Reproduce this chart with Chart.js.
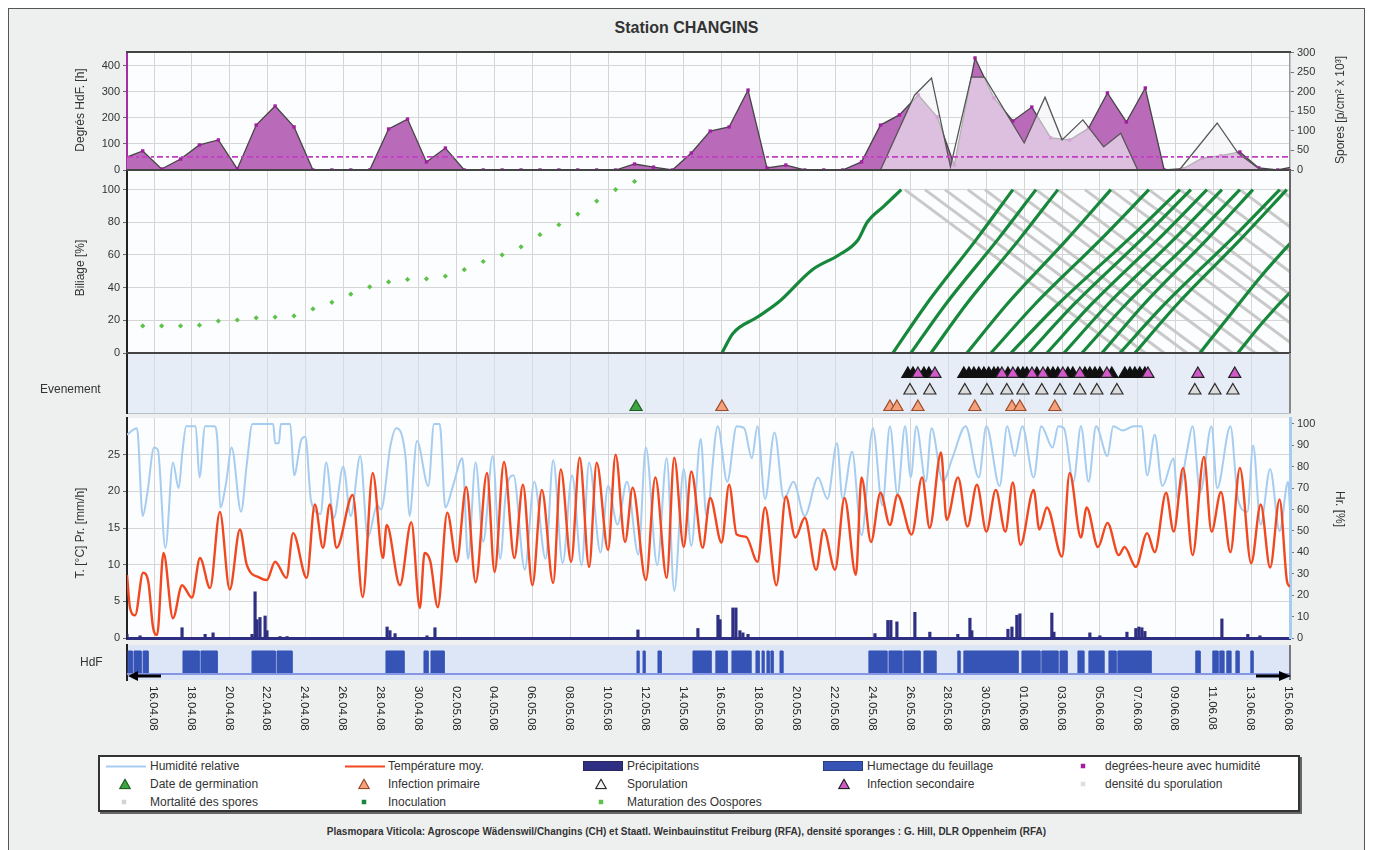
<!DOCTYPE html>
<html lang="fr">
<head>
<meta charset="utf-8">
<title>Station CHANGINS</title>
<script src="https://cdn.jsdelivr.net/npm/chart.js@4.4.1/dist/chart.umd.min.js"></script>
<style>
html,body{margin:0;padding:0;background:#ffffff;}
#wrap{position:relative;width:1373px;height:850px;overflow:hidden;font-family:"Liberation Sans",Arial,Helvetica,sans-serif;color:#333;}
#frame{position:absolute;left:8px;top:8px;width:1357px;height:848px;background:#eef0f0;border:1px solid #555;box-sizing:border-box;}
#title{position:absolute;left:0;top:19px;width:1373px;text-align:center;font-size:16px;font-weight:bold;color:#333;}
canvas{position:absolute;left:0;}
.vt{position:absolute;white-space:nowrap;font-size:12px;color:#333;transform:translate(-50%,-50%) rotate(-90deg);}
.vt.down{transform:translate(-50%,-50%) rotate(90deg);}
.lab{position:absolute;font-size:12px;color:#333;white-space:nowrap;transform:translateY(-50%);}
#legend{position:absolute;left:98px;top:755px;width:1202px;height:57px;background:#fff;border:2px solid #333;box-sizing:border-box;box-shadow:2px 2px 0 #666;}
.li{position:absolute;font-size:12px;color:#333;white-space:nowrap;transform:translateY(-50%);}
.ic{position:absolute;transform:translate(-50%,-50%);line-height:0;}
#footer{position:absolute;left:0;width:1373px;top:826px;text-align:center;font-size:10px;font-weight:bold;color:#333;}
</style>
</head>
<body>
<div id="wrap">
  <div id="frame"></div>
  <div id="title">Station CHANGINS</div>
  <canvas id="cDeg" width="1373" height="138" style="top:42px"></canvas>
  <canvas id="cBil" width="1373" height="203" style="top:160px"></canvas>
  <canvas id="cEvt" width="1373" height="80" style="top:343px"></canvas>
  <canvas id="cTmp" width="1373" height="240" style="top:408px"></canvas>
  <canvas id="cHdf" width="1373" height="110" style="top:635px"></canvas>
  <div class="vt" style="left:80px;top:110px">Degrés HdF. [h]</div>
  <div class="vt" style="left:80px;top:268px">Biliage [%]</div>
  <div class="vt" style="left:80px;top:533px">T. [°C] Pr. [mm/h]</div>
  <div class="vt" style="left:1340px;top:110px">Spores [p/cm² x 10³]</div>
  <div class="vt down" style="left:1340px;top:509px">Hr. [%]</div>
  <div class="lab" style="left:40px;top:389px">Evenement</div>
  <div class="lab" style="left:80px;top:662px">HdF</div>
  <div id="legend"></div>
  <div id="footer">Plasmopara Viticola: Agroscope Wädenswil/Changins (CH) et Staatl. Weinbauinstitut Freiburg (RFA), densité sporanges : G. Hill, DLR Oppenheim (RFA)</div>
</div>
<script>
// ---------------- DATA (days counted from 16.04.08) ----------------
const X_MIN = -1.43, X_MAX = 60.05;
const TICK_DAYS = [0,2,4,6,8,10,12,14,16,18,20,22,24,26,28,30,32,34,36,38,40,42,44,46,48,50,52,54,56,58,60];
const DATE_LABELS = ['16.04.08','18.04.08','20.04.08','22.04.08','24.04.08','26.04.08','28.04.08','30.04.08',
  '02.05.08','04.05.08','06.05.08','08.05.08','10.05.08','12.05.08','14.05.08','16.05.08','18.05.08','20.05.08',
  '22.05.08','24.05.08','26.05.08','28.05.08','30.05.08','01.06.08','03.06.08','05.06.08','07.06.08','09.06.08',
  '11.06.08','13.06.08','15.06.08'];

// Degrés-heure avec humidité (left axis, h)
const DEG_DAYS = [-1.6,-0.6,0.4,1.4,2.4,3.4,4.4,5.4,6.4,7.4,8.4,9.4,10.4,11.4,12.4,13.4,14.4,15.4,16.4,17.4,18.4,19.4,
  20.4,21.4,22.4,23.4,24.4,25.4,26.4,27.4,28.4,29.4,30.4,31.4,32.4,33.4,34.4,35.4,36.4,37.4,38.4,39.4,40.4,41.4,42.3,
  43.4,44.4,45.4,46.4,47.4,48.4,49.4,50.4,51.4,52.4,53.4,54.4,55.4,56.4,57.4,58.4,59.4,60.4];
const DEG_VALUES = [45,73,4,42,96,115,4,172,245,165,0,0,0,0,157,195,31,84,0,0,0,0,0,0,0,0,0,23,11,0,65,149,165,306,
  8,19,0,0,0,31,172,211,287,203,19,429,276,188,241,123,115,160,295,184,314,0,5,45,55,69,8,0,15];
const DEG_THRESHOLD = 50;

// Densité de sporulation (right axis)
const SPO_DAYS = [38.4,40.2,41.1,42.1,43.2,43.9,46.0,47.1,48.0,49.1,50.2,51.1,52.0,54.2,56.2,57.3,58.5];
const SPO_VALUES = [0,191,235,8,237,237,69,186,77,128,59,94,0,0,120,43,0];

// Maturation des oospores (%)
const MAT_DAYS = [-0.6,0.4,1.4,2.4,3.4,4.4,5.4,6.4,7.4,8.4,9.4,10.4,11.4,12.4,13.4,14.4,15.4,16.4,17.4,18.4,19.4,20.4,21.4,22.4,23.4,24.4,25.4];
const MAT_VALUES = [16.6,16.6,16.6,17,19.6,20.2,21.5,22,22.7,27,31,36,40.5,43.5,45,45.4,47,51,56,60,65,72.4,78.5,85,93,100,105];

// Inoculation curves [day, %]
const INOC_LINES = [
  [[30.02,0],[30.6,12],[31.9,22],[33.0,31],[34.8,51],[36.2,60],[37.2,69],[37.7,80],[38.6,90],[39.5,100]],
  [[39.06,0],[40.84,30],[43.50,70],[45.40,100]],
  [[40.01,0],[41.86,30],[44.64,70],[46.62,100]],
  [[41.07,0],[42.95,30],[45.77,70],[47.78,100]],
  [[42.97,0],[45.10,30],[48.30,70],[50.58,100]],
  [[44.24,0],[46.58,30],[50.09,70],[52.59,100]],
  [[45.30,0],[47.80,30],[51.55,70],[54.23,100]],
  [[46.25,0],[48.65,30],[52.24,70],[54.81,100]],
  [[47.20,0],[49.57,30],[53.12,70],[55.66,100]],
  [[48.10,0],[50.44,30],[53.95,70],[56.45,100]],
  [[49.05,0],[51.39,30],[54.90,70],[57.40,100]],
  [[50.11,0],[52.34,30],[55.70,70],[58.09,100]],
  [[51.06,0],[53.43,30],[56.98,70],[59.51,100]],
  [[51.85,0],[54.10,30],[57.47,70],[59.88,100]],
  [[55.29,0],[57.0,25],[58.6,48],[60.05,67],[60.6,74]],
  [[57.29,0],[58.7,20],[60.05,37],[60.6,43]]
];
// Mortalité des spores: [start day at 100 %, end day at 0 %]
const MORT_LINES = [[39.69,51.3],[40.75,52.4],[41.81,53.4],[43.02,54.6],[43.92,55.5],[45.40,57.0],[46.62,58.2],
  [47.78,59.4],[49.21,60.8],[50.58,62.2],[51.59,63.2],[52.59,64.2],[54.23,65.8],[55.66,67.3],[57.40,69.0],[59.51,71.1]];

// Événements
const GERM_DAYS = [25.48];
const PRIM_DAYS = [30.02,38.9,39.27,40.38,43.39,45.35,45.77,47.62];
const SPOR_DAYS = [39.96,41.01,42.86,44.03,45.08,45.93,46.93,47.89,48.94,49.84,50.90,55.02,56.08,57.03];
const SEC_DAYS = [40.38,41.28,44.82,45.40,46.41,46.99,48.04,48.94,50.37,52.54,55.18,57.13];
const SEC_BUSY_DAYS = [39.85,40.12,40.70,40.96,42.81,43.08,43.34,43.60,43.87,44.13,44.40,44.61,45.14,45.67,45.93,
  46.14,46.67,47.25,47.52,47.78,48.31,48.57,49.21,49.47,49.74,50.00,50.63,51.32,51.59,51.85,52.11,52.38];

// Température moyenne (°C)
const TEMP_DAYS = [-1.43,-1.27,-1.0,-0.58,-0.3,-0.05,0.16,0.5,1.0,1.48,2.0,2.43,2.96,3.48,4.0,4.54,4.9,5.6,5.96,6.4,
  7.0,7.35,8.07,8.5,8.93,9.29,9.65,10.5,11.03,11.56,12.1,12.3,13.0,13.6,14.05,14.3,14.6,15.0,15.5,16.0,
  16.5,17.0,17.6,18.0,18.5,19.05,19.5,20.0,20.5,21.1,21.5,22.05,22.5,23.0,23.4,24.0,24.4,24.9,25.3,26.0,
  26.5,27.1,27.5,28.0,28.4,29.0,29.4,30.0,30.4,30.8,31.3,31.9,32.3,32.9,33.4,33.9,34.4,35.0,35.4,36.0,
  36.5,37.1,37.4,37.9,38.4,38.9,39.3,40.05,40.6,41.0,41.6,41.9,42.5,43.0,43.5,44.0,44.5,45.0,45.4,45.8,
  46.5,46.8,47.2,48.0,48.4,49.0,49.3,49.9,50.4,51.0,51.3,51.9,52.5,52.9,53.5,53.9,54.4,54.9,55.5,55.9,
  56.4,56.9,57.4,58.0,58.5,59.0,59.5,59.9,60.05];
const TEMP_VALUES = [8.6,4.1,3.1,8.9,7.6,1.4,0.4,11.6,2.7,7.2,5.5,10.9,6.8,17.2,6.6,14.8,10.0,8.2,7.9,10.4,
  8.2,14.3,8.2,18.2,12.3,18.2,12.3,19.5,5.6,22.5,10.9,15.4,7.2,15.8,4.1,11.6,10.5,4.2,17.1,10.4,
  20.6,7.6,22.5,9.0,24.0,10.9,20.9,7.2,20.2,7.5,23.0,10.4,24.6,9.7,23.9,12.0,25.0,13.1,20.5,7.9,
  21.9,8.2,24.6,12.4,22.7,12.3,19.1,13.0,20.9,14.1,13.8,10.4,17.8,7.2,19.3,13.7,16.4,9.3,14.8,9.3,
  19.1,8.6,21.9,13.1,19.8,15.4,19.5,14.1,21.9,15.0,25.3,16.1,21.9,15.2,20.9,14.5,20.2,14.5,21.2,12.7,
  20.2,14.8,17.8,11.1,22.5,13.7,17.8,12.4,15.7,11.3,12.4,9.7,14.3,11.7,19.8,14.5,23.2,11.3,24.7,14.5,
  19.9,11.7,23.2,10.2,18.2,9.6,18.9,7.6,7.0];

// Humidité relative (%)
const HUM_DAYS = [-1.43,-0.9,-0.6,-0.35,0.0,0.2,0.6,1.0,1.3,1.5,1.7,2.2,2.4,2.7,3.2,3.35,3.5,3.8,4.1,4.6,
  4.9,5.2,6.3,6.4,6.6,6.7,7.2,7.4,7.8,8.0,8.3,8.8,9.1,9.5,10.0,10.4,10.9,11.3,11.8,12.0,
  12.5,12.8,13.3,13.5,13.9,14.5,14.8,15.1,15.4,15.8,16.3,16.6,17.0,17.4,17.9,18.3,18.6,19.0,19.6,20.1,
  20.7,21.1,21.6,22.1,22.6,23.0,23.6,24.0,24.5,25.0,25.6,26.0,26.6,27.1,27.5,28.0,28.4,28.9,29.2,29.8,
  30.3,30.8,31.2,31.6,31.9,32.3,32.8,33.3,33.8,34.4,35.1,35.6,36.1,36.4,36.9,37.4,38.0,38.5,38.9,39.3,
  39.7,40.0,40.3,40.8,41.1,41.7,42.2,42.9,43.6,44.0,44.7,45.1,45.5,45.9,46.5,46.9,47.5,47.8,48.1,48.6,
  49.0,49.4,49.8,50.4,50.7,51.2,51.8,52.2,52.5,52.9,53.3,53.9,54.1,54.6,54.9,55.3,55.9,56.2,56.9,57.3,
  57.8,58.1,58.5,59.0,59.5,59.95,60.05];
const HUM_VALUES = [95,98,57,68,89,88,42,82,70,87,99,99,75,99,99,92,61,72,89,59,
  81,100,100,91,91,100,100,76,93,94,64,58,82,56,80,57,85,47,62,60,
  90,98,84,57,92,71,100,100,61,71,84,37,82,45,85,37,68,76,32,73,
  37,83,35,76,34,82,40,71,53,73,39,89,34,84,22,79,43,93,57,99,
  73,99,98,84,99,65,96,65,73,57,75,65,91,65,87,48,98,62,99,67,
  99,75,99,73,98,73,84,99,75,99,71,99,85,99,75,99,89,99,98,73,
  99,73,99,85,99,97,99,99,76,95,71,84,65,87,99,68,99,70,99,65,
  59,90,53,79,50,73,60];

// Précipitations (mm/h)
const PREC_DAYS = [-1.43,-0.74,1.48,2.7,3.12,5.18,5.34,5.44,5.6,5.87,5.97,6.66,7.03,12.32,12.47,12.74,14.43,14.85,25.58,28.75,
  29.81,29.92,30.6,30.76,30.97,31.13,31.4,38.11,38.79,38.95,39.27,40.22,41.01,42.49,43.13,43.23,45.14,45.35,45.61,45.77,
  47.46,47.57,49.47,50.0,51.43,51.9,52.06,52.22,52.38,56.45,57.82,58.46];
const PREC_VALUES = [0.5,0.3,1.4,0.5,0.7,0.5,6.3,2.5,2.8,3.0,1.0,0.2,0.2,1.5,1.0,0.6,0.3,1.4,1.1,1.3,
  3.1,2.5,4.1,4.1,1.0,0.7,0.5,0.6,2.4,2.4,2.2,3.5,0.8,0.5,2.7,1.0,1.2,1.5,3.1,3.3,
  3.4,0.8,0.7,0.3,0.8,1.3,1.5,1.4,0.9,2.6,0.5,0.3];

// Humectage du feuillage: wet periods [start, end]
const HDF_START = [-1.37,-1.06,-0.58,1.53,2.48,5.18,6.50,12.26,14.27,14.64,25.53,25.85,26.64,28.49,29.70,30.55,31.82,32.14,32.40,32.61,
  33.09,37.79,38.85,39.64,40.70,42.49,42.81,45.88,46.93,47.89,48.84,49.42,50.48,50.95,55.07,55.97,56.34,56.71,57.19,57.98];
const HDF_END = [-1.16,-0.69,-0.32,2.38,3.33,6.40,7.29,13.21,14.48,15.33,25.63,25.95,26.80,29.44,30.29,31.55,31.98,32.24,32.51,32.72,
  33.24,38.74,39.53,40.49,41.33,42.60,45.67,46.83,47.78,48.26,49.15,50.21,50.85,52.70,55.29,56.24,56.55,56.92,57.35,58.09];

// ---------------- LAYOUT ----------------
const CW = 1373, PLOT_L = 127, PLOT_R = 1290, PAD = 10;
const ROW_PRIM = 1, ROW_SPOR = 2, ROW_SEC = 3;

Chart.defaults.font.family = '"Liberation Sans", Arial, Helvetica, sans-serif';
Chart.defaults.font.size = 11;
Chart.defaults.color = '#333';
Chart.defaults.elements.point.radius = 0;
Chart.defaults.elements.point.hoverRadius = 0;

const panelPlugin = {
  id: 'panel',
  beforeDraw(chart, args, o) {
    const a = chart.chartArea, ctx = chart.ctx;
    if (o && o.bg) { ctx.save(); ctx.fillStyle = o.bg; ctx.fillRect(a.left, a.top, a.right - a.left, a.bottom - a.top); ctx.restore(); }
  },
  afterDraw(chart, args, o) {
    const a = chart.chartArea, ctx = chart.ctx;
    ctx.save();
    if (o && o.top) { ctx.strokeStyle = o.top.color; ctx.lineWidth = o.top.width; ctx.beginPath(); ctx.moveTo(a.left - 1, a.top); ctx.lineTo(a.right + 1, a.top); ctx.stroke(); }
    if (o && o.right) { ctx.strokeStyle = o.right.color; ctx.lineWidth = o.right.width; ctx.setLineDash(o.right.dash || []); ctx.beginPath(); ctx.moveTo(a.right, a.top); ctx.lineTo(a.right, a.bottom); ctx.stroke(); }
    ctx.restore();
  }
};
Chart.register(panelPlugin);

function xAxis(gridColor, border, showGrid) {
  return {
    type: 'linear', min: X_MIN, max: X_MAX, offset: false,
    afterBuildTicks: s => { s.ticks = TICK_DAYS.map(v => ({value: v})); },
    ticks: {display: false},
    grid: {display: showGrid !== false, color: gridColor, lineWidth: 1, drawTicks: false, offset: false},
    border: border
  };
}
function yLeft(min, max, tickVals, borderColor, showGrid) {
  return {
    type: 'linear', position: 'left', min: min, max: max,
    afterBuildTicks: s => { s.ticks = tickVals.map(v => ({value: v})); },
    afterFit: s => { s.width = PLOT_L; },
    ticks: {display: tickVals.length > 0, padding: 3, color: '#333', font: {size: 11}},
    grid: {display: true, drawOnChartArea: showGrid, color: '#d6d6d6', tickLength: 4, tickColor: '#666', drawTicks: tickVals.length > 0},
    border: {display: true, color: borderColor, width: 2}
  };
}
function yRight(min, max, tickVals, border) {
  return {
    type: 'linear', position: 'right', min: min, max: max,
    afterBuildTicks: s => { s.ticks = tickVals.map(v => ({value: v})); },
    afterFit: s => { s.width = CW - PLOT_R; },
    ticks: {padding: 3, color: '#333', font: {size: 11}},
    grid: {drawOnChartArea: false, tickLength: 4, tickColor: '#777'},
    border: border
  };
}
function opts(scales, panel, padRight, padBottom) {
  return {
    responsive: false, animation: false, devicePixelRatio: 1, events: [],
    layout: {padding: {top: PAD, bottom: padBottom, left: 0, right: padRight}},
    plugins: {legend: {display: false}, tooltip: {enabled: false}, panel: panel},
    scales: scales
  };
}
const pts = (xs, ys) => xs.map((x, i) => ({x: x, y: ys[i]}));
const row = (xs, r) => xs.map(x => ({x: x, y: r}));

// ---- Panel 1: degrés-heure / spores
new Chart(document.getElementById('cDeg'), {
  type: 'line',
  data: {datasets: [
    {label: 'seuil', data: [{x: X_MIN, y: DEG_THRESHOLD}, {x: X_MAX, y: DEG_THRESHOLD}], yAxisID: 'y',
     borderColor: '#c23ec2', borderWidth: 1.8, borderDash: [6, 3, 3, 3]},
    {label: 'densité du sporulation', data: pts(SPO_DAYS, SPO_VALUES), yAxisID: 'y2', fill: 'origin',
     backgroundColor: 'rgba(244,244,247,0.62)', borderColor: '#555', borderWidth: 1.3, tension: 0},
    {label: 'degrées-heure avec humidité', data: pts(DEG_DAYS, DEG_VALUES), yAxisID: 'y', fill: 'origin',
     backgroundColor: '#b96ab9', borderColor: '#454545', borderWidth: 1.3, tension: 0,
     pointRadius: 2.4, pointStyle: 'rect', pointBackgroundColor: '#a01ea0', pointBorderWidth: 0}
  ]},
  options: opts({
    x: xAxis('#d6d6d6', {display: true, color: '#444', width: 2}),
    y: yLeft(0, 452, [0, 100, 200, 300, 400], '#a52ea5', true),
    y2: yRight(0, 301.3, [0, 50, 100, 150, 200, 250, 300], {display: true, color: '#999', width: 1.5, dash: [2, 2]})
  }, {bg: '#fcfdfe', top: {color: '#444', width: 2}}, 0, PAD)
});

// ---- Panel 2: Biliage
const bilSets = [];
INOC_LINES.forEach(l => bilSets.push({label: 'Inoculation', data: l.map(p => ({x: p[0], y: p[1]})),
  borderColor: '#17883b', borderWidth: 3.2, cubicInterpolationMode: 'monotone'}));
bilSets.push({label: 'Maturation des Oospores', data: pts(MAT_DAYS, MAT_VALUES), showLine: false,
  pointRadius: 2.6, pointStyle: 'rectRot', pointBackgroundColor: '#5ec24a', pointBorderWidth: 0});
MORT_LINES.forEach(l => bilSets.push({label: 'Mortalité des spores', data: [{x: l[0], y: 100}, {x: l[1], y: 0}],
  borderColor: '#c9c9c9', borderWidth: 3}));
new Chart(document.getElementById('cBil'), {
  type: 'line',
  data: {datasets: bilSets},
  options: opts({
    x: xAxis('#d6d6d6', {display: true, color: '#444', width: 2}),
    y: yLeft(0, 112, [0, 20, 40, 60, 80, 100], '#222', true)
  }, {bg: '#fcfdfe', top: {color: '#444', width: 2}, right: {color: '#666', width: 2}}, CW - PLOT_R, PAD)
});

// ---- Panel 3: événements
const tri = (label, data, fillC, lineC) => ({label: label, data: data, showLine: false, clip: false,
  pointStyle: 'triangle', pointRadius: 7, pointBackgroundColor: fillC, pointBorderColor: lineC, pointBorderWidth: 1.2});
new Chart(document.getElementById('cEvt'), {
  type: 'line',
  data: {datasets: [
    tri('Infection secondaire', row(SEC_DAYS, ROW_SEC), '#d259c9', '#222'),
    tri('Infection secondaire (en cours)', row(SEC_BUSY_DAYS, ROW_SEC), '#111', '#111'),
    tri('Sporulation', row(SPOR_DAYS, ROW_SPOR), '#dcdcdc', '#2a2a2a'),
    tri('Infection primaire', row(PRIM_DAYS, ROW_PRIM), '#f4a27c', '#9a4b2a'),
    tri('Date de germination', row(GERM_DAYS, ROW_PRIM), '#3ea544', '#1d5e1d')
  ]},
  options: opts({
    x: xAxis('#d5dce8', {display: true, color: '#b8c0cc', width: 1}),
    y: yLeft(0.636, 4.27, [], '#222', false)
  }, {bg: '#e6edf7', top: {color: '#444', width: 2}, right: {color: '#888', width: 2}}, CW - PLOT_R, PAD)
});

// ---- Panel 4: température / humidité / précipitations
new Chart(document.getElementById('cTmp'), {
  type: 'line',
  data: {datasets: [
    {label: 'Température moy.', data: pts(TEMP_DAYS, TEMP_VALUES), yAxisID: 'y', borderColor: '#f2481f',
     borderWidth: 2.4, cubicInterpolationMode: 'monotone'},
    {label: 'Humidité relative', data: pts(HUM_DAYS, HUM_VALUES), yAxisID: 'yH', borderColor: '#a6cdf0',
     borderWidth: 2, cubicInterpolationMode: 'monotone'},
    {type: 'bar', label: 'Précipitations', data: pts(PREC_DAYS, PREC_VALUES), yAxisID: 'y',
     backgroundColor: '#2e2e82', barThickness: 2.5, grouped: false}
  ]},
  options: opts({
    x: xAxis('#d6d6d6', {display: true, color: '#2e2e82', width: 3}),
    y: yLeft(0, 30, [0, 5, 10, 15, 20, 25], '#222', true),
    yH: yRight(0, 102.8, [0, 10, 20, 30, 40, 50, 60, 70, 80, 90, 100], {display: true, color: '#a6cdf0', width: 3})
  }, {bg: '#fcfdfe'}, 0, PAD)
});

// ---- Panel 5: humectage du feuillage + dates
const hdfPts = [{x: X_MIN, y: 0}];
HDF_START.forEach((s, i) => { hdfPts.push({x: s, y: 0}, {x: s, y: 1}, {x: HDF_END[i], y: 1}, {x: HDF_END[i], y: 0}); });
hdfPts.push({x: X_MAX, y: 0});
const dateLabelPlugin = {
  id: 'dateLabels',
  afterDraw(chart) {
    const xs = chart.scales.x, a = chart.chartArea, ctx = chart.ctx;
    ctx.save();
    ctx.fillStyle = '#222';
    ctx.font = '11.5px "Liberation Sans", Arial, sans-serif';
    ctx.textBaseline = 'middle'; ctx.textAlign = 'left';
    TICK_DAYS.forEach((v, i) => {
      const px = xs.getPixelForValue(v) - 1;
      ctx.save(); ctx.translate(px, a.bottom + 6); ctx.rotate(Math.PI / 2);
      ctx.fillText(DATE_LABELS[i], 0, 0); ctx.restore();
    });
    // scroll arrows
    const y = a.bottom - 4;
    ctx.fillStyle = '#000'; ctx.strokeStyle = '#000'; ctx.lineWidth = 3;
    ctx.beginPath(); ctx.moveTo(a.left + 8, y); ctx.lineTo(a.left + 34, y); ctx.stroke();
    ctx.beginPath(); ctx.moveTo(a.left + 1, y); ctx.lineTo(a.left + 11, y - 5); ctx.lineTo(a.left + 11, y + 5); ctx.closePath(); ctx.fill();
    ctx.beginPath(); ctx.moveTo(a.right - 34, y); ctx.lineTo(a.right - 8, y); ctx.stroke();
    ctx.beginPath(); ctx.moveTo(a.right + 1, y); ctx.lineTo(a.right - 11, y - 5); ctx.lineTo(a.right - 11, y + 5); ctx.closePath(); ctx.fill();
    ctx.restore();
  }
};
new Chart(document.getElementById('cHdf'), {
  type: 'line',
  data: {datasets: [
    {label: 'ligne', data: [{x: X_MIN, y: 0}, {x: X_MAX, y: 0}], borderColor: '#8596e4', borderWidth: 2},
    {label: 'Humectage du feuillage', data: hdfPts, fill: 'origin', backgroundColor: '#3653b6',
     borderColor: '#3653b6', borderWidth: 1, tension: 0}
  ]},
  options: opts({
    x: xAxis('#d6d6d6', {display: false}, false),
    y: yLeft(-0.26, 1.26, [], '#222', false)
  }, {bg: '#dde6f7', right: {color: '#555', width: 1.5}}, CW - PLOT_R, 65),
  plugins: [dateLabelPlugin]
});

// ---------------- LEGEND ----------------
const ROW_Y = [766, 784, 802];
const LEGEND_ITEMS = [
  {r: 0, ix: 126, tx: 150, kind: 'line', c: '#a6cdf0', t: 'Humidité relative'},
  {r: 0, ix: 365, tx: 388, kind: 'line', c: '#f2481f', t: 'Température moy.'},
  {r: 0, ix: 603, tx: 627, kind: 'rect', c: '#2e2e82', t: 'Précipitations'},
  {r: 0, ix: 843, tx: 867, kind: 'rect', c: '#3653b6', t: 'Humectage du feuillage'},
  {r: 0, ix: 1083, tx: 1105, kind: 'dot', c: '#a01ea0', t: 'degrées-heure avec humidité'},
  {r: 1, ix: 125, tx: 150, kind: 'tri', c: '#3ea544', b: '#1d5e1d', t: 'Date de germination'},
  {r: 1, ix: 364, tx: 388, kind: 'tri', c: '#f4a27c', b: '#9a4b2a', t: 'Infection primaire'},
  {r: 1, ix: 601, tx: 627, kind: 'tri', c: '#f4f4f4', b: '#2a2a2a', t: 'Sporulation'},
  {r: 1, ix: 844, tx: 867, kind: 'tri', c: '#d259c9', b: '#222', t: 'Infection secondaire'},
  {r: 1, ix: 1083, tx: 1105, kind: 'dot', c: '#dedede', t: 'densité du sporulation'},
  {r: 2, ix: 124, tx: 150, kind: 'dot', c: '#d4d4d4', t: 'Mortalité des spores'},
  {r: 2, ix: 364, tx: 388, kind: 'dot', c: '#17883b', t: 'Inoculation'},
  {r: 2, ix: 601, tx: 627, kind: 'dot', c: '#5ec24a', t: 'Maturation des Oospores'}
];
const wrap = document.getElementById('wrap');
function svgIcon(it) {
  if (it.kind === 'line') return '<svg width="40" height="4"><line x1="0" y1="2" x2="40" y2="2" stroke="' + it.c + '" stroke-width="2"/></svg>';
  if (it.kind === 'rect') return '<svg width="40" height="10"><rect x="0" y="0" width="40" height="10" fill="' + it.c + '" stroke="#222" stroke-width="0.8"/></svg>';
  if (it.kind === 'tri') return '<svg width="12" height="11"><polygon points="6,0.8 11.3,10.2 0.7,10.2" fill="' + it.c + '" stroke="' + it.b + '" stroke-width="1.2"/></svg>';
  return '<svg width="5" height="5"><rect x="0" y="0" width="5" height="5" fill="' + it.c + '"/></svg>';
}
LEGEND_ITEMS.forEach(it => {
  const ic = document.createElement('div');
  ic.className = 'ic'; ic.style.left = it.ix + 'px'; ic.style.top = ROW_Y[it.r] + 'px';
  ic.innerHTML = svgIcon(it);
  wrap.appendChild(ic);
  const tx = document.createElement('div');
  tx.className = 'li'; tx.style.left = it.tx + 'px'; tx.style.top = ROW_Y[it.r] + 'px';
  tx.textContent = it.t;
  wrap.appendChild(tx);
});
</script>
</body>
</html>
